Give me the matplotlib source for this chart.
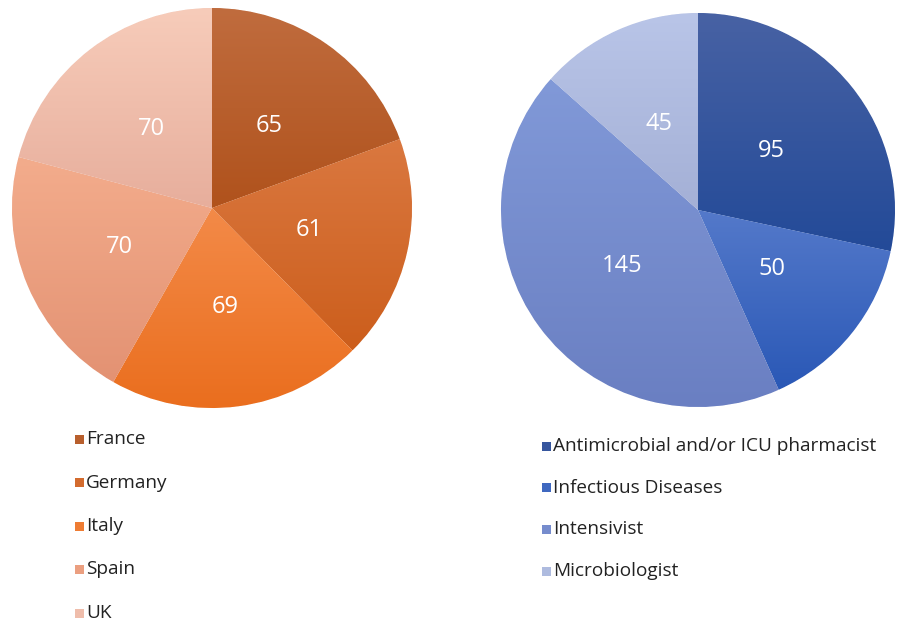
import numpy as np
import matplotlib
matplotlib.use("Agg")
import matplotlib.pyplot as plt
from matplotlib.colors import LinearSegmentedColormap
from matplotlib.patches import Rectangle

plt.rcParams['font.family'] = ['Open Sans', 'DejaVu Sans']

countries = ["France", "Germany", "Italy", "Spain", "UK"]
country_values = [65, 61, 69, 70, 70]
country_top = ["#C06C3E", "#DA7840", "#F38A48", "#F3AC8C", "#F7CCBA"]
country_bot = ["#B0521C", "#CC5E1C", "#EA6E1E", "#E39273", "#E7AE9C"]

roles = ["Antimicrobial and/or ICU pharmacist", "Infectious Diseases",
         "Intensivist", "Microbiologist"]
role_values = [95, 50, 145, 45]
role_top = ["#4862A4", "#5479CA", "#8199D8", "#B9C5E8"]
role_bot = ["#234A98", "#2A58B6", "#6A7FC2", "#A4B0D6"]

W, H = 900, 627
fig = plt.figure(figsize=(W / 100, H / 100), dpi=100)


def draw_pie(cx, cy, r, values, tops, bots, labeldist):
    ax = fig.add_axes([(cx - r) / W, (H - cy - r) / H, 2 * r / W, 2 * r / H])
    wedges, texts = ax.pie(values, startangle=90, counterclock=False,
                           labels=[str(v) for v in values], labeldistance=labeldist,
                           wedgeprops=dict(edgecolor="white", linewidth=0.6),
                           textprops=dict(color="white", fontsize=17, ha="center", va="center"))
    for t in texts:
        t.set_ha("center")
        t.set_va("center")
        t.set_zorder(10)
    ax.set_xlim(-1, 1)
    ax.set_ylim(-1, 1)
    ax.set_aspect("equal")
    ax.axis("off")
    for w, ct, cb in zip(wedges, tops, bots):
        cmap = LinearSegmentedColormap.from_list("g", [cb, ct])
        grad = np.linspace(0, 1, 256).reshape(-1, 1)
        angs = np.linspace(np.radians(w.theta1), np.radians(w.theta2), 100)
        ys = np.concatenate([[0], np.sin(angs)])
        y0, y1 = ys.min(), ys.max()
        im = ax.imshow(grad, cmap=cmap, origin="lower", aspect="auto",
                       extent=[-1.05, 1.05, y0, y1], zorder=w.get_zorder() + 0.1)
        im.set_clip_path(w)
        w.set_facecolor(cb)
    ax.set_xlim(-1, 1)
    ax.set_ylim(-1, 1)
    return ax


draw_pie(212, 208, 200, country_values, country_top, country_bot, 0.5)
draw_pie(698, 210, 197, role_values, role_top, role_bot, 0.48)


def legend(x, y0, dy, labels, tops, bots):
    for i, lab in enumerate(labels):
        y = y0 + i * dy
        c = matplotlib.colors.to_hex(
            (np.array(matplotlib.colors.to_rgb(tops[i])) + np.array(matplotlib.colors.to_rgb(bots[i]))) / 2)
        fig.add_artist(Rectangle(((x - 4.5) / W, (H - y - 4.5) / H), 9 / W, 9 / H,
                                 transform=fig.transFigure, facecolor=c, edgecolor="none"))
        fig.text((x + 7) / W, (H - y) / H, lab, fontsize=13.7, color="#222222",
                 ha="left", va="center", fontweight="medium")


legend(79, 439, 43.5, countries, country_top, country_bot)
legend(546, 446, 41.7, roles, role_top, role_bot)

fig.savefig("out.png", dpi=100, facecolor="white")
